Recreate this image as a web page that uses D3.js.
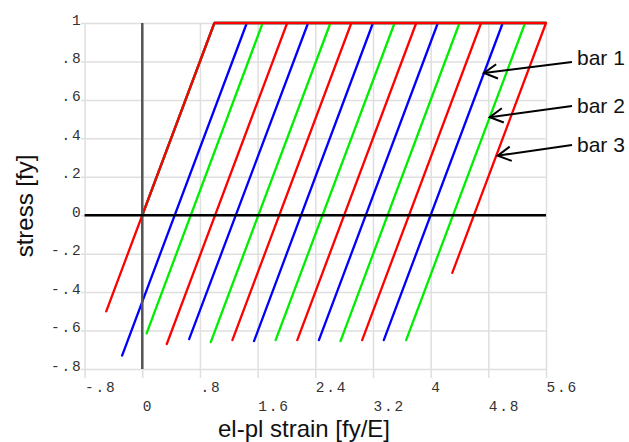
<!DOCTYPE html>
<html>
<head>
<meta charset="utf-8">
<script src="https://cdn.jsdelivr.net/npm/d3@7"></script>
<style>
  body { margin: 0; background: #fff; }
  svg { display: block; }
</style>
</head>
<body>
<div id="chart"></div>
<script>
// ticks
const xTicks = [-0.8, 0, 0.8, 1.6, 2.4, 3.2, 4, 4.8, 5.6];
const xTickLabels = ["-.8", "0", ".8", "1.6", "2.4", "3.2", "4", "4.8", "5.6"];
const yTicks = [-0.8, -0.6, -0.4, -0.2, 0, 0.2, 0.4, 0.6, 0.8, 1];
const yTickLabels = ["-.8", "-.6", "-.4", "-.2", "0", ".2", ".4", ".6", ".8", "1"];

// bar 1 (blue) strain/stress history
const bar1Strain = [0, 1, 1.45, -0.28, 1.45, 2.30, 0.65, 2.30, 3.20, 1.55, 3.20, 4.10, 2.45, 4.10, 5.00, 3.35, 5.00, 5.6];
const bar1Stress = [0, 1, 1, -0.73, 1, 1, -0.645, 1, 1, -0.655, 1, 1, -0.65, 1, 1, -0.65, 1, 1];

// bar 2 (green)
const bar2Strain = [0, 1, 1.67, 0.06, 1.67, 2.61, 0.95, 2.61, 3.50, 1.85, 3.50, 4.40, 2.75, 4.40, 5.31, 3.66, 5.31, 5.6];
const bar2Stress = [0, 1, 1, -0.615, 1, 1, -0.66, 1, 1, -0.65, 1, 1, -0.655, 1, 1, -0.65, 1, 1];

// bar 3 (red)
const bar3Strain = [-0.5, 1, 2.01, 0.34, 2.01, 2.90, 1.25, 2.90, 3.80, 2.15, 3.80, 4.70, 3.05, 4.70, 5.6, 4.30];
const bar3Stress = [-0.5, 1, 1, -0.67, 1, 1, -0.65, 1, 1, -0.65, 1, 1, -0.65, 1, 1, -0.30];

const barNames = ["bar 1", "bar 2", "bar 3"];
const barColors = ["#0000ff", "#00ee00", "#ff0000"];
// where each arrow points, in data units
const arrowStrain = [4.74, 4.82, 4.93];
const arrowStress = [0.74, 0.51, 0.31];

const width = 629, height = 442;
const svg = d3.select("#chart").append("svg")
    .attr("width", width)
    .attr("height", height);

const x = d3.scaleLinear().domain([-0.8, 5.6]).range([84.6, 546]);
const y = d3.scaleLinear().domain([-0.8, 1]).range([369, 23]);

const gridColor = "#dfdfdf";
const monoFont = "'Liberation Mono', 'Courier New', monospace";

// x grid + tick labels (two staggered rows)
const gx = svg.append("g")
    .attr("transform", "translate(0,378)")
    .call(d3.axisBottom(x)
        .tickValues(xTicks)
        .tickSize(-(378 - 23))
        .tickPadding(0)
        .tickFormat((d, i) => xTickLabels[i]));
gx.select(".domain").remove();
gx.selectAll(".tick line").attr("stroke", gridColor).attr("stroke-width", 1.5);
gx.selectAll(".tick text")
    .attr("text-anchor", "start")
    .attr("x", 0)
    .attr("dy", null)
    .attr("y", (d, i) => i % 2 === 0 ? 14 : 33)
    .attr("fill", "#333")
    .style("font-family", monoFont)
    .style("font-size", "14.5px")
    .style("letter-spacing", "1.8px");

// y grid + tick labels
const gy = svg.append("g")
    .attr("transform", "translate(81,0)")
    .call(d3.axisLeft(y)
        .tickValues(yTicks)
        .tickSize(-(546 - 81))
        .tickPadding(-1.5)
        .tickFormat((d, i) => yTickLabels[i]));
gy.select(".domain").remove();
gy.selectAll(".tick line").attr("stroke", gridColor).attr("stroke-width", 1.5);
gy.selectAll(".tick text")
    .attr("dy", 1)
    .attr("fill", "#333")
    .style("font-family", monoFont)
    .style("font-size", "14.5px")
    .style("letter-spacing", "1.8px");

// stress-strain paths
const line = d3.line().x(d => x(d[0])).y(d => y(d[1]));
const bars = [
    d3.zip(bar1Strain, bar1Stress),
    d3.zip(bar2Strain, bar2Stress),
    d3.zip(bar3Strain, bar3Stress)
];
svg.append("g").selectAll("path")
    .data(bars)
    .enter()
    .append("path")
    .attr("d", line)
    .attr("fill", "none")
    .attr("stroke", (d, i) => barColors[i])
    .attr("stroke-width", 2.3)
    .attr("stroke-linejoin", "round")
    .attr("stroke-linecap", "round");

// zero axes
svg.append("line")
    .attr("x1", x(0)).attr("x2", x(0))
    .attr("y1", y(1)).attr("y2", y(-0.8))
    .attr("stroke", "#555").attr("stroke-width", 2.5);
svg.append("line")
    .attr("x1", x(-0.8)).attr("x2", x(5.6))
    .attr("y1", y(0)).attr("y2", y(0))
    .attr("stroke", "#000").attr("stroke-width", 2.6);

// axis titles
svg.append("text")
    .attr("transform", "translate(33,206) rotate(-90)")
    .attr("text-anchor", "middle")
    .attr("fill", "#111")
    .style("font-family", "'Liberation Sans', Arial, sans-serif")
    .style("font-size", "24px")
    .text("stress [fy]");

svg.append("text")
    .attr("x", 304)
    .attr("y", 437)
    .attr("text-anchor", "middle")
    .attr("fill", "#111")
    .style("font-family", "'Liberation Sans', Arial, sans-serif")
    .style("font-size", "24px")
    .text("el-pl strain [fy/E]");

// annotations
const labelY = [65, 113, 152];
const tailY = [62, 106, 145];
const ann = svg.append("g");
barNames.forEach((name, i) => {
    const tx = x(arrowStrain[i]), ty = y(arrowStress[i]);
    const sx = 572, sy = tailY[i];
    ann.append("line")
        .attr("x1", sx).attr("y1", sy)
        .attr("x2", tx).attr("y2", ty)
        .attr("stroke", "#000").attr("stroke-width", 2);
    const a = Math.atan2(sy - ty, sx - tx);
    const len = 15, spread = 0.5;
    const head = [
        [tx + len * Math.cos(a - spread), ty + len * Math.sin(a - spread)],
        [tx, ty],
        [tx + len * Math.cos(a + spread), ty + len * Math.sin(a + spread)]
    ];
    ann.append("path")
        .attr("d", d3.line()(head))
        .attr("fill", "none")
        .attr("stroke", "#000")
        .attr("stroke-width", 2)
        .attr("stroke-linejoin", "miter");
    ann.append("text")
        .attr("x", 577)
        .attr("y", labelY[i])
        .attr("fill", "#111")
        .style("font-family", "'Liberation Sans', Arial, sans-serif")
        .style("font-size", "21px")
        .text(name);
});
</script>
</body>
</html>
